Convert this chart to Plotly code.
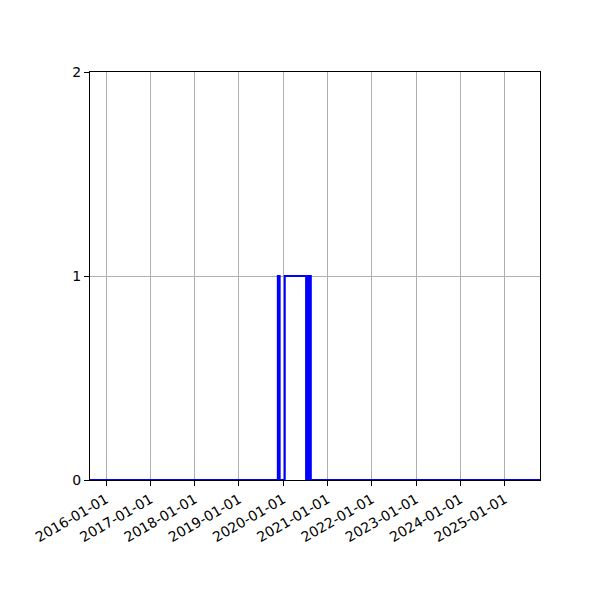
import plotly.graph_objects as go

# change points of the on/off state (step plot, value holds until next date)
change_dates = [
    "2015-08-22", "2019-11-18", "2019-12-03", "2020-01-14",
    "2020-07-08", "2020-07-12", "2020-07-17", "2020-07-21",
    "2020-07-26", "2020-07-30", "2020-08-04", "2020-08-09",
    "2020-08-16", "2025-10-19",
]
state = [0, 1, 0, 1, 0, 1, 0, 1, 0, 1, 0, 1, 0, 0]

year_ticks = [f"{y}-01-01" for y in range(2016, 2026)]
y_ticks = [0, 1, 2]

fig = go.Figure()
fig.add_trace(go.Scatter(
    x=change_dates,
    y=state,
    mode="lines",
    line=dict(color="blue", width=2, shape="hv"),
    showlegend=False,
))

axis_style = dict(
    showline=True,
    mirror=True,
    linecolor="black",
    linewidth=1,
    ticks="outside",
    ticklen=5,
    tickcolor="black",
    showgrid=True,
    gridcolor="#b0b0b0",
    gridwidth=1,
    zeroline=False,
    tickfont=dict(family="DejaVu Sans", size=14, color="black"),
)

# page body adds an 8px offset, so margins are trimmed to land the axes box
fig.update_layout(
    width=600,
    height=600,
    margin=dict(l=82, r=68, t=64, b=128, autoexpand=False),
    paper_bgcolor="white",
    plot_bgcolor="white",
    xaxis=dict(
        type="date",
        range=["2015-08-22", "2025-10-19"],
        tickvals=year_ticks,
        ticktext=year_ticks,
        tickangle=-30,
        **axis_style,
    ),
    yaxis=dict(
        range=[0, 2],
        tickvals=y_ticks,
        ticktext=[str(v) for v in y_ticks],
        **axis_style,
    ),
)

fig.write_html("out.html")
